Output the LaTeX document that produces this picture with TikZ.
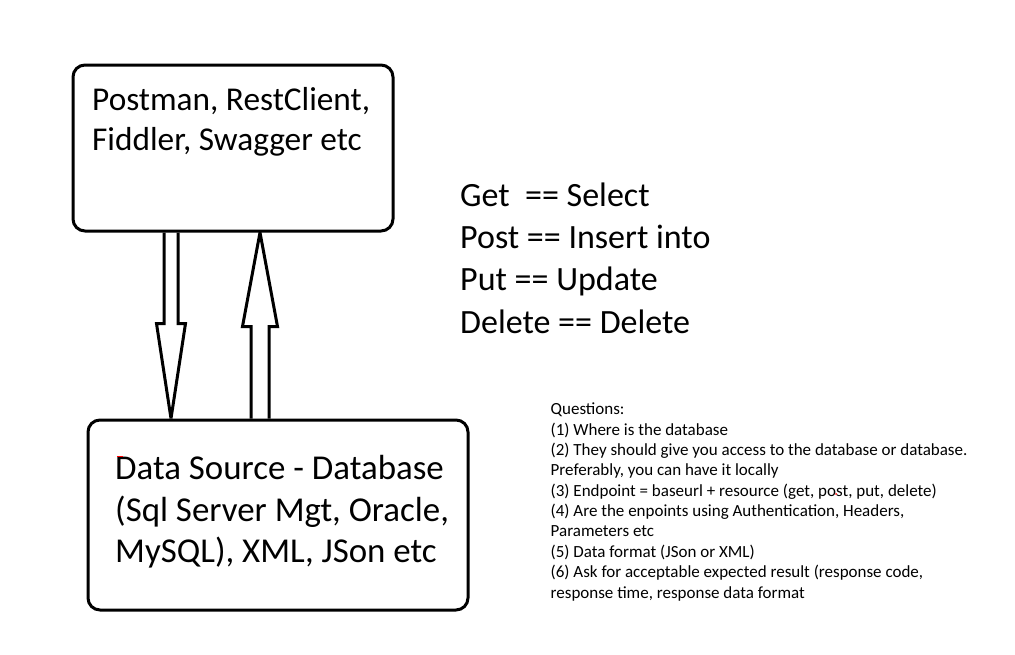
\documentclass[tikz,border=0pt]{standalone}
\usepackage{fontspec}
\setmainfont{Carlito}
\usetikzlibrary{calc}

\tikzset{
  box/.style={draw, line width=3pt, rounded corners=12pt, inner sep=0pt},
  bigtext/.style={align=left, inner sep=0pt, anchor=base west},
  smalltext/.style={font=\fontsize{17}{20.35}\selectfont, align=left, inner sep=0pt, anchor=base west},
  hollow/.style={line width=3pt, miter limit=4},
}

\begin{document}
\begin{tikzpicture}[x=1pt, y=-1pt]
    \useasboundingbox (0,0) rectangle (1015,654);

    % draw the boxes
    \node[box, minimum width=320pt, minimum height=166pt] (tools) at (233,148) {};
    \node[box, minimum width=380pt, minimum height=190pt] (source) at (278,515) {};

    % the texts (placed at the baseline of their last line)
    \node[bigtext, font=\fontsize{33.3}{40}\selectfont] (toolstext) at (92,150)
        {Postman, RestClient,\\Fiddler, Swagger etc};
    \node[bigtext, font=\fontsize{34.9}{41.5}\selectfont] (sourcetext) at (115,562.5)
        {Data Source - Database\\(Sql Server Mgt, Oracle,\\MySQL), XML, JSon etc};
    \node[bigtext, font=\fontsize{34}{42.3}\selectfont] (methods) at (460,333)
        {Get~~== Select\\Post == Insert into\\Put == Update\\Delete == Delete};
    \node[smalltext] (questions) at (550.5,598)
        {Questions:\\
         (1) Where is the database\\
         (2) They should give you access to the database or database.\\
         Preferably, you can have it locally\\
         (3) Endpoint = baseurl + resource (get, post, put, delete)\\
         (4) Are the enpoints using Authentication, Headers,\\
         Parameters etc\\
         (5) Data format (JSon or XML)\\
         (6) Ask for acceptable expected result (response code,\\
         response time, response data format};

    % the ends of the two hollow arrows on the box edges
    \coordinate (req) at ($(tools.south)+(-62,0)$);
    \coordinate (reqend) at ($(source.north)+(-107,0)$);
    \coordinate (resp) at ($(source.north)+(-18,0)$);
    \coordinate (respend) at ($(tools.south)+(27,0)$);

    % draw the arrows
    \draw[hollow] let \p1=(req), \p2=(reqend) in
        (\x1-7pt,\y1) -- (\x1-7pt,\y2+95pt) -- (\x1-14.5pt,\y2+95pt) -- (\x2,\y2)
        -- (\x1+14.5pt,\y2+95pt) -- (\x1+7pt,\y2+95pt) -- (\x1+7pt,\y1);
    \draw[hollow] let \p1=(resp), \p2=(respend) in
        (\x1-9pt,\y1) -- (\x1-9pt,\y2-94pt) -- (\x1-17.5pt,\y2-94pt) -- (\x2,\y2)
        -- (\x1+17.5pt,\y2-94pt) -- (\x1+9pt,\y2-94pt) -- (\x1+9pt,\y1);

    % small red marks
    \draw[red, line width=1.5pt] (117,456.5) -- (123,456.5);
    \fill[red] (836,494) circle (1pt);
\end{tikzpicture}
\end{document}
